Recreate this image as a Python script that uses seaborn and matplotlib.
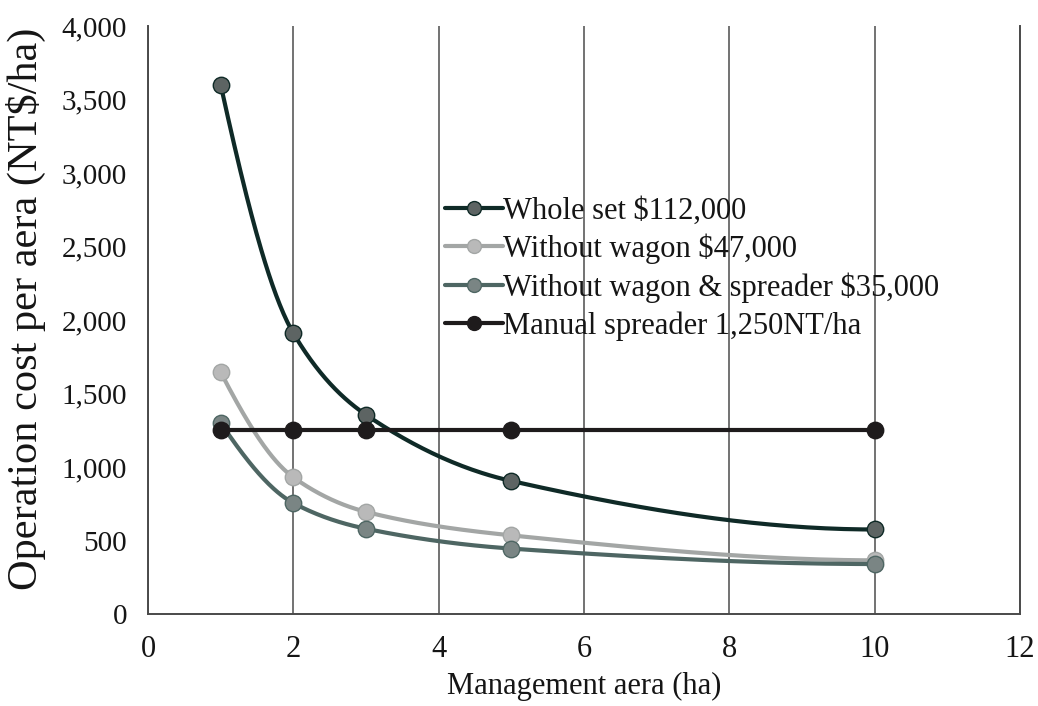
import numpy as np
import pandas as pd
import matplotlib
matplotlib.use("Agg")
import matplotlib.pyplot as plt
from matplotlib.lines import Line2D
import seaborn as sns

# ---- data ----
area = [1, 2, 3, 5, 10]
whole_set = [3600, 1910, 1355, 905, 575]
without_wagon = [1645, 930, 695, 535, 365]
without_wagon_spreader = [1300, 755, 580, 445, 340]
manual = [1250, 1250, 1250, 1250, 1250]
series_names = ["Whole set $112,000", "Without wagon $47,000",
                "Without wagon & spreader $35,000", "Manual spreader 1,250NT/ha"]
xticks = [0, 2, 4, 6, 8, 10, 12]
yticks = [0, 500, 1000, 1500, 2000, 2500, 3000, 3500, 4000]

series = [whole_set, without_wagon, without_wagon_spreader, manual]
line_colors = ["#0f2a27", "#a3a6a5", "#4e6663", "#1e1b1c"]
marker_colors = ["#5d6463", "#b9b9b9", "#7a8584", "#1e1b1c"]
lw = 3.0

sns.set_theme(style="white")
plt.rcParams['font.family'] = ['Liberation Serif', 'DejaVu Serif']
txt = "#151515"

fig = plt.figure(figsize=(10.38, 7.06), dpi=100)
ax = fig.add_axes([0.1426, 0.1303, 0.8401, 0.8329])
ax.set_xlim(0, 12)
ax.set_ylim(0, 4000)


def smooth(xs, ys, n=60):
    """Shape-preserving cubic Hermite curve through the data points (smoothed line look)."""
    x = np.array(xs, float)
    y = np.array(ys, float)
    h = np.diff(x)
    s = np.diff(y) / h
    m = len(x)
    d = np.zeros(m)
    for k in range(1, m - 1):
        if s[k - 1] * s[k] > 0:
            w1 = 2 * h[k] + h[k - 1]
            w2 = h[k] + 2 * h[k - 1]
            d[k] = (w1 + w2) / (w1 / s[k - 1] + w2 / s[k])
        else:
            d[k] = 0.0

    def edge(h0, h1, s0, s1):
        dd = ((2 * h0 + h1) * s0 - h0 * s1) / (h0 + h1)
        if np.sign(dd) != np.sign(s0):
            dd = 0.0
        elif np.sign(s0) != np.sign(s1) and abs(dd) > abs(3 * s0):
            dd = 3 * s0
        return dd

    d[0] = edge(h[0], h[1], s[0], s[1])
    d[-1] = edge(h[-1], h[-2], s[-1], s[-2])
    X, Y = [], []
    for i in range(m - 1):
        t = np.linspace(0, 1, n)
        if i > 0:
            t = t[1:]
        h00 = 2 * t ** 3 - 3 * t ** 2 + 1
        h10 = t ** 3 - 2 * t ** 2 + t
        h01 = -2 * t ** 3 + 3 * t ** 2
        h11 = t ** 3 - t ** 2
        X.append(x[i] + t * h[i])
        Y.append(h00 * y[i] + h10 * h[i] * d[i] + h01 * y[i + 1] + h11 * h[i] * d[i + 1])
    return np.concatenate(X), np.concatenate(Y)


frames = []
for name, ys in zip(series_names, series):
    cx, cy = smooth(area, ys)
    frames.append(pd.DataFrame({"x": cx, "y": cy, "s": name}))
curves = pd.concat(frames, ignore_index=True)
points = pd.concat([pd.DataFrame({"x": area, "y": ys, "s": name})
                    for name, ys in zip(series_names, series)], ignore_index=True)

for i, name in enumerate(series_names):
    d = curves[curves.s == name]
    sns.lineplot(data=d, x="x", y="y", ax=ax, color=line_colors[i],
                 lw=lw, sort=False, estimator=None, legend=False, zorder=3 + i)
    p = points[points.s == name]
    sns.scatterplot(data=p, x="x", y="y", ax=ax, color=marker_colors[i],
                    s=140, edgecolor=line_colors[i], linewidth=1.0, legend=False,
                    zorder=4 + i, clip_on=False)

ax.set_xticks(xticks)
ax.set_yticks(yticks)
ax.set_xticklabels([f"{v}" for v in xticks], fontsize=22)
ax.set_yticklabels([f"{v:,}" for v in yticks], fontsize=21)
ax.tick_params(axis='y', length=0, pad=15, colors=txt)
ax.tick_params(axis='x', length=0, pad=15, colors=txt)
ax.xaxis.grid(True, color="#5a5a5a", lw=1.2)
ax.yaxis.grid(False)
ax.spines["top"].set_visible(False)
for s in ["left", "bottom", "right"]:
    ax.spines[s].set_color("#4a4a4a")
    ax.spines[s].set_linewidth(1.4)

ax.set_xlabel("Management aera (ha)", fontsize=22, labelpad=6, color=txt)
ax.set_ylabel("Operation cost per aera (NT$/ha)", fontsize=30.5, color=txt)
ax.yaxis.set_label_coords(-0.117, 0.519)

handles = [Line2D([0], [0], color=line_colors[i], lw=lw, marker="o",
                  markersize=10, markerfacecolor=marker_colors[i],
                  markeredgecolor=line_colors[i]) for i in range(4)]
ax.legend(handles, series_names, loc="upper left", bbox_to_anchor=(0.326, 0.731),
          frameon=False, fontsize=22, handlelength=1.9, handletextpad=0.0,
          labelspacing=0.27, borderaxespad=0, labelcolor=txt)

fig.savefig("out.png", dpi=100)
